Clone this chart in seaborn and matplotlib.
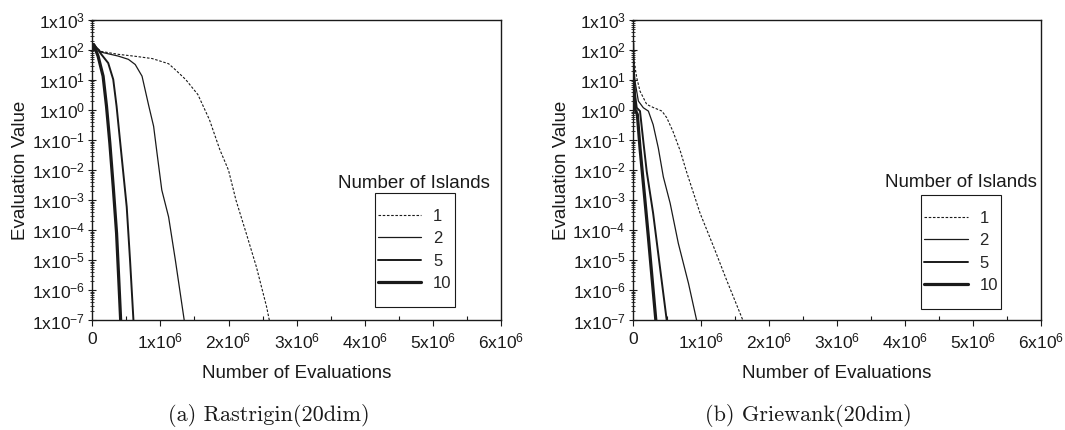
import matplotlib
matplotlib.use("Agg")
import matplotlib.pyplot as plt
import matplotlib.ticker as mticker
from matplotlib.patches import Rectangle
import numpy as np
import pandas as pd
import seaborn as sns

# island counts (legend entries)
islands = ["1", "2", "5", "10"]

# Rastrigin(20dim): number of evaluations (x1e6) and evaluation value
rast_x = {
    "1": [0, 0.02, 0.13, 0.38, 0.63, 0.88, 1.12, 1.22, 1.37, 1.55, 1.72, 1.87, 2.0, 2.11, 2.26, 2.41, 2.56, 2.6],
    "2": [0, 0.02, 0.13, 0.38, 0.53, 0.63, 0.73, 0.83, 0.90, 0.95, 1.02, 1.12, 1.22, 1.35],
    "5": [0, 0.02, 0.134, 0.233, 0.307, 0.356, 0.406, 0.455, 0.505, 0.554, 0.604],
    "10": [0, 0.02, 0.084, 0.158, 0.208, 0.257, 0.307, 0.356, 0.391, 0.416],
}
rast_y = {
    "1": [110, 140, 90, 72, 62, 52, 35, 22, 10.5, 3.3, 0.48, 0.05, 0.01, 1e-3, 8e-5, 6e-6, 2.8e-7, 1e-7],
    "2": [110, 150, 85, 63, 49, 33, 13.5, 1.35, 0.29, 0.037, 2.2e-3, 2.8e-4, 1e-5, 1e-7],
    "5": [112, 160, 71, 37, 10.5, 1.35, 0.1, 8e-3, 6e-4, 1e-5, 1e-7],
    "10": [105, 150, 63, 13.5, 1.35, 0.08, 2.8e-3, 8e-5, 1.7e-6, 1e-7],
}

# Griewank(20dim)
grie_x = {
    "1": [0, 0.01, 0.059, 0.107, 0.206, 0.30, 0.43, 0.50, 0.59, 0.70, 0.79, 0.99, 1.19, 1.38, 1.62],
    "2": [0, 0.01, 0.034, 0.083, 0.156, 0.23, 0.30, 0.376, 0.45, 0.55, 0.67, 0.82, 0.94],
    "5": [0, 0.01, 0.034, 0.059, 0.107, 0.156, 0.206, 0.30, 0.40, 0.5],
    "10": [0, 0.005, 0.02, 0.034, 0.068, 0.107, 0.14, 0.23, 0.34],
}
grie_y = {
    "1": [150, 60, 12, 4.3, 1.55, 1.23, 0.93, 0.56, 0.2, 0.043, 0.009, 3.7e-4, 2.8e-5, 2.2e-6, 1e-7],
    "2": [150, 40, 9, 2, 1.2, 0.93, 0.33, 0.055, 6e-3, 8e-4, 3.7e-5, 1.7e-6, 1e-7],
    "5": [150, 20, 3.4, 1.2, 0.93, 0.09, 0.009, 3.7e-4, 6e-6, 1e-7],
    "10": [170, 30, 2.6, 1.05, 0.72, 0.055, 0.009, 6e-5, 1e-7],
}

sns.set_style("ticks")
plt.rcParams["font.family"] = ["Liberation Sans", "DejaVu Sans"]
plt.rcParams["mathtext.fontset"] = "custom"
plt.rcParams["mathtext.rm"] = "Liberation Sans"
plt.rcParams["mathtext.default"] = "regular"

ink = "#1a1a1a"
palette = {k: ink for k in islands}
sizes = {"1": 0.8, "2": 0.9, "5": 1.4, "10": 2.3}
dashes = {"1": (2.3, 1.5), "2": "", "5": "", "10": ""}


def to_frame(xs, ys):
    rows = []
    for k in islands:
        for xv, yv in zip(xs[k], ys[k]):
            rows.append({"evals": xv * 1e6, "value": yv, "islands": k})
    return pd.DataFrame(rows)


def ylab(v, pos):
    return rf"$\mathregular{{1x10^{{{int(round(np.log10(v)))}}}}}$"


def xlab(v, pos):
    if v == 0:
        return "0"
    return rf"$\mathregular{{{int(round(v / 1e6))}x10^{{6}}}}$"


fig = plt.figure(figsize=(10.65, 4.3), dpi=100)
ax_l = fig.add_axes([0.0867, 0.2547, 0.3836, 0.6988])
ax_r = fig.add_axes([0.5941, 0.2547, 0.3834, 0.6988])

panels = [
    (ax_l, to_frame(rast_x, rast_y), (0.789, 0.235), (0.787, 0.457)),
    (ax_r, to_frame(grie_x, grie_y), (0.804, 0.228), (0.804, 0.458)),
]

for ax, df, box_c, title_c in panels:
    sns.lineplot(
        data=df, x="evals", y="value", hue="islands", size="islands", style="islands",
        hue_order=islands, size_order=islands, style_order=islands,
        palette=palette, sizes=sizes, dashes=dashes, errorbar=None, ax=ax,
    )
    ax.set_yscale("log")
    ax.set_xlim(0, 6e6)
    ax.set_ylim(1e-7, 1e3)

    ax.yaxis.set_major_locator(mticker.LogLocator(base=10, numticks=20))
    ax.yaxis.set_minor_locator(mticker.LogLocator(base=10, subs=np.arange(2, 10), numticks=20))
    ax.yaxis.set_major_formatter(mticker.FuncFormatter(ylab))
    ax.yaxis.set_minor_formatter(mticker.NullFormatter())
    ax.xaxis.set_major_locator(mticker.MultipleLocator(1e6))
    ax.xaxis.set_minor_locator(mticker.MultipleLocator(0.5e6))
    ax.xaxis.set_major_formatter(mticker.FuncFormatter(xlab))

    ax.tick_params(axis="y", which="major", direction="inout", length=6, width=0.8,
                   labelsize=12.5, pad=2, colors=ink)
    ax.tick_params(axis="y", which="minor", direction="inout", length=3.5, width=0.6, colors=ink)
    ax.tick_params(axis="x", which="major", direction="out", length=4, width=0.8,
                   labelsize=12.5, pad=4, colors=ink)
    ax.tick_params(axis="x", which="minor", direction="in", length=3, width=0.8, colors=ink)
    for s in ax.spines.values():
        s.set_linewidth(1.0)
        s.set_color(ink)

    ax.set_xlabel("Number of Evaluations", fontsize=13.5, labelpad=10, color=ink)
    ax.set_ylabel("Evaluation Value", fontsize=13.5, labelpad=2, color=ink)

    sns.move_legend(
        ax, "center", bbox_to_anchor=box_c, frameon=False, title=None,
        fontsize=12, handlelength=2.6, handletextpad=0.7, labelspacing=0.45,
    )
    w, h = 0.195, 0.378
    ax.add_patch(Rectangle((box_c[0] - w / 2, box_c[1] - h / 2), w, h, transform=ax.transAxes,
                           fill=False, lw=0.8, ec=ink, zorder=5))
    ax.text(title_c[0], title_c[1], "Number of Islands", transform=ax.transAxes,
            ha="center", va="center", fontsize=13.5, color=ink)

fig.text(0.2521, 0.0326, "(a) Rastrigin(20dim)", family="cmr10", fontsize=16,
         ha="center", va="center", color=ink)
fig.text(0.7587, 0.0326, "(b) Griewank(20dim)", family="cmr10", fontsize=16,
         ha="center", va="center", color=ink)

fig.savefig("out.png", dpi=100)
